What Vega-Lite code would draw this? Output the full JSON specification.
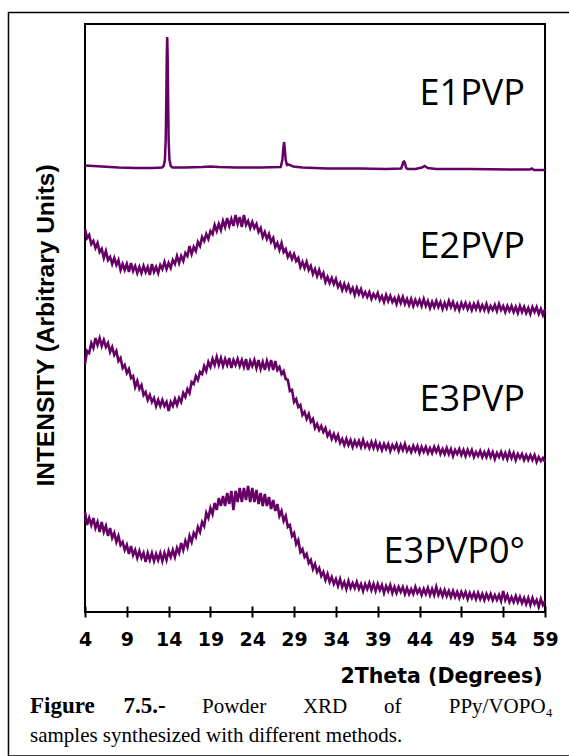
{
  "$schema": "https://vega.github.io/schema/vega-lite/v6.json",
  "width": 460,
  "height": 588,
  "autosize": {"type": "none"},
  "padding": {"left": 85, "top": 24, "right": 24, "bottom": 144},
  "background": "white",
  "datasets": {
    "e1": [
      {"t":4,"v":446.5},{"t":5,"v":446},{"t":6,"v":445.5},{"t":8,"v":444.5},{"t":10,"v":444},{"t":12,"v":444},
      {"t":13.2,"v":444.5},{"t":13.4,"v":446},{"t":13.55,"v":452},{"t":13.65,"v":472},{"t":13.72,"v":512},{"t":13.78,"v":557},
      {"t":13.83,"v":575},{"t":13.88,"v":557},{"t":13.94,"v":512},{"t":14.0,"v":472},{"t":14.1,"v":452},{"t":14.25,"v":446},
      {"t":14.45,"v":444.5},{"t":16,"v":444.5},{"t":18,"v":445},{"t":19,"v":445.5},{"t":20,"v":445},{"t":22,"v":444.5},
      {"t":25,"v":444.5},{"t":27.4,"v":445},{"t":27.6,"v":452},{"t":27.72,"v":464},{"t":27.81,"v":470},{"t":27.9,"v":462},
      {"t":28.0,"v":452},{"t":28.15,"v":447},{"t":28.4,"v":447.5},{"t":28.6,"v":446.5},{"t":28.9,"v":445.5},{"t":30,"v":444.5},
      {"t":33,"v":443.5},{"t":37,"v":443.5},{"t":40,"v":443},{"t":41.8,"v":443.5},{"t":41.95,"v":447},{"t":42.05,"v":450},
      {"t":42.15,"v":450.5},{"t":42.25,"v":449},{"t":42.4,"v":444},{"t":42.6,"v":443},{"t":43.5,"v":443},{"t":44.3,"v":444.5},
      {"t":44.6,"v":446},{"t":45.0,"v":444},{"t":46,"v":443},{"t":50,"v":443},{"t":55,"v":442.5},{"t":57.2,"v":442.5},
      {"t":57.4,"v":443.5},{"t":57.7,"v":442},{"t":59,"v":442}
    ],
    "labels": [
      {"label":"E1PVP","t":56.6,"v":507},
      {"label":"E2PVP","t":56.6,"v":354},
      {"label":"E3PVP","t":56.6,"v":201},
      {"label":"E3PVP0°","t":56.6,"v":49}
    ],
    "noisy": [
      {"t":4.00,"a":383,"b":248,"c":100},{"t":4.25,"a":374,"b":261,"c":87},{"t":4.50,"a":377,"b":259,"c":94},{"t":4.75,"a":368,"b":269,"c":87},
      {"t":5.00,"a":371,"b":264,"c":94},{"t":5.25,"a":364,"b":274,"c":84},{"t":5.50,"a":369,"b":267,"c":90},{"t":5.75,"a":360,"b":274,"c":80},
      {"t":6.00,"a":363,"b":266,"c":90},{"t":6.25,"a":354,"b":272,"c":80},{"t":6.50,"a":361,"b":265,"c":86},{"t":6.75,"a":352,"b":269,"c":76},
      {"t":7.00,"a":355,"b":260,"c":84},{"t":7.25,"a":348,"b":265,"c":74},{"t":7.50,"a":354,"b":257,"c":79},{"t":7.75,"a":347,"b":261,"c":70},
      {"t":8.00,"a":352,"b":251,"c":76},{"t":8.25,"a":342,"b":254,"c":67},{"t":8.50,"a":348,"b":244,"c":70},{"t":8.75,"a":342,"b":247,"c":62},
      {"t":9.00,"a":348,"b":239,"c":67},{"t":9.25,"a":340,"b":243,"c":58},{"t":9.50,"a":349,"b":234,"c":66},{"t":9.75,"a":341,"b":236,"c":57},
      {"t":10.00,"a":346,"b":225,"c":62},{"t":10.25,"a":339,"b":231,"c":54},{"t":10.50,"a":345,"b":223,"c":61},{"t":10.75,"a":339,"b":227,"c":54},
      {"t":11.00,"a":346,"b":217,"c":59},{"t":11.25,"a":340,"b":220,"c":50},{"t":11.50,"a":345,"b":212,"c":59},{"t":11.75,"a":337,"b":217,"c":52},
      {"t":12.00,"a":348,"b":210,"c":59},{"t":12.25,"a":340,"b":214,"c":51},{"t":12.50,"a":345,"b":206,"c":58},{"t":12.75,"a":339,"b":212,"c":52},
      {"t":13.00,"a":347,"b":206,"c":59},{"t":13.25,"a":343,"b":212,"c":51},{"t":13.50,"a":350,"b":206,"c":59},{"t":13.75,"a":343,"b":210,"c":52},
      {"t":14.00,"a":349,"b":201,"c":61},{"t":14.25,"a":344,"b":210,"c":55},{"t":14.50,"a":352,"b":206,"c":62},{"t":14.75,"a":348,"b":213,"c":55},
      {"t":15.00,"a":356,"b":207,"c":64},{"t":15.25,"a":349,"b":214,"c":59},{"t":15.50,"a":356,"b":210,"c":69},{"t":15.75,"a":351,"b":219,"c":62},
      {"t":16.00,"a":359,"b":215,"c":71},{"t":16.25,"a":356,"b":223,"c":65},{"t":16.50,"a":366,"b":219,"c":76},{"t":16.75,"a":358,"b":230,"c":70},
      {"t":17.00,"a":365,"b":228,"c":79},{"t":17.25,"a":361,"b":236,"c":75},{"t":17.50,"a":370,"b":232,"c":85},{"t":17.75,"a":366,"b":240,"c":80},
      {"t":18.00,"a":375,"b":238,"c":90},{"t":18.25,"a":371,"b":246,"c":86},{"t":18.50,"a":378,"b":241,"c":99},{"t":18.75,"a":373,"b":250,"c":94},
      {"t":19.00,"a":381,"b":245,"c":104},{"t":19.25,"a":378,"b":253,"c":98},{"t":19.50,"a":387,"b":247,"c":109},{"t":19.75,"a":381,"b":255,"c":102},
      {"t":20.00,"a":388,"b":247,"c":114},{"t":20.25,"a":382,"b":254,"c":106},{"t":20.50,"a":391,"b":246,"c":116},{"t":20.75,"a":385,"b":253,"c":106},
      {"t":21.00,"a":394,"b":247,"c":119},{"t":21.25,"a":386,"b":254,"c":108},{"t":21.50,"a":393,"b":244,"c":121},{"t":21.75,"a":386,"b":252,"c":102},
      {"t":22.00,"a":397,"b":247,"c":121},{"t":22.25,"a":388,"b":253,"c":110},{"t":22.50,"a":395,"b":246,"c":124},{"t":22.75,"a":385,"b":252,"c":110},
      {"t":23.00,"a":397,"b":245,"c":124},{"t":23.25,"a":387,"b":253,"c":112},{"t":23.50,"a":391,"b":242,"c":126},{"t":23.75,"a":384,"b":251,"c":110},
      {"t":24.00,"a":390,"b":246,"c":124},{"t":24.25,"a":384,"b":252,"c":110},{"t":24.50,"a":388,"b":244,"c":122},{"t":24.75,"a":380,"b":252,"c":108},
      {"t":25.00,"a":384,"b":243,"c":119},{"t":25.25,"a":375,"b":250,"c":106},{"t":25.50,"a":380,"b":242,"c":118},{"t":25.75,"a":373,"b":251,"c":106},
      {"t":26.00,"a":378,"b":244,"c":115},{"t":26.25,"a":370,"b":252,"c":103},{"t":26.50,"a":374,"b":242,"c":112},{"t":26.75,"a":365,"b":251,"c":101},
      {"t":27.00,"a":369,"b":242,"c":108},{"t":27.25,"a":362,"b":245,"c":96},{"t":27.50,"a":369,"b":238,"c":101},{"t":27.75,"a":360,"b":241,"c":91},
      {"t":28.00,"a":363,"b":233,"c":96},{"t":28.25,"a":355,"b":232,"c":85},{"t":28.50,"a":359,"b":221,"c":87},{"t":28.75,"a":353,"b":222,"c":76},
      {"t":29.00,"a":358,"b":210,"c":79},{"t":29.25,"a":351,"b":213,"c":68},{"t":29.50,"a":354,"b":205,"c":72},{"t":29.75,"a":345,"b":207,"c":60},
      {"t":30.00,"a":350,"b":197,"c":63},{"t":30.25,"a":344,"b":200,"c":55},{"t":30.50,"a":350,"b":193,"c":58},{"t":30.75,"a":342,"b":198,"c":49},
      {"t":31.00,"a":346,"b":190,"c":52},{"t":31.25,"a":338,"b":193,"c":43},{"t":31.50,"a":343,"b":184,"c":48},{"t":31.75,"a":336,"b":188,"c":40},
      {"t":32.00,"a":342,"b":182,"c":44},{"t":32.25,"a":335,"b":186,"c":36},{"t":32.50,"a":339,"b":180,"c":40},{"t":32.75,"a":330,"b":184,"c":32},
      {"t":33.00,"a":335,"b":176,"c":38},{"t":33.25,"a":329,"b":180,"c":30},{"t":33.50,"a":334,"b":173,"c":35},{"t":33.75,"a":328,"b":178,"c":28},
      {"t":34.00,"a":333,"b":172,"c":33},{"t":34.25,"a":325,"b":177,"c":26},{"t":34.50,"a":329,"b":169,"c":33},{"t":34.75,"a":322,"b":173,"c":25},
      {"t":35.00,"a":328,"b":167,"c":30},{"t":35.25,"a":322,"b":173,"c":23},{"t":35.50,"a":327,"b":167,"c":31},{"t":35.75,"a":320,"b":172,"c":24},
      {"t":36.00,"a":324,"b":165,"c":29},{"t":36.25,"a":317,"b":171,"c":24},{"t":36.50,"a":324,"b":166,"c":30},{"t":36.75,"a":318,"b":171,"c":23},
      {"t":37.00,"a":323,"b":165,"c":28},{"t":37.25,"a":316,"b":172,"c":21},{"t":37.50,"a":320,"b":165,"c":28},{"t":37.75,"a":315,"b":169,"c":23},
      {"t":38.00,"a":320,"b":164,"c":29},{"t":38.25,"a":313,"b":170,"c":22},{"t":38.50,"a":318,"b":164,"c":28},{"t":38.75,"a":314,"b":170,"c":21},
      {"t":39.00,"a":319,"b":163,"c":28},{"t":39.25,"a":312,"b":168,"c":22},{"t":39.50,"a":316,"b":162,"c":27},{"t":39.75,"a":310,"b":168,"c":19},
      {"t":40.00,"a":317,"b":163,"c":26},{"t":40.25,"a":311,"b":168,"c":21},{"t":40.50,"a":316,"b":161,"c":27},{"t":40.75,"a":310,"b":167,"c":19},
      {"t":41.00,"a":314,"b":163,"c":25},{"t":41.25,"a":308,"b":168,"c":19},{"t":41.50,"a":315,"b":161,"c":25},{"t":41.75,"a":309,"b":167,"c":20},
      {"t":42.00,"a":315,"b":162,"c":25},{"t":42.25,"a":308,"b":168,"c":18},{"t":42.50,"a":313,"b":161,"c":24},{"t":42.75,"a":307,"b":165,"c":18},
      {"t":43.00,"a":313,"b":160,"c":23},{"t":43.25,"a":306,"b":166,"c":18},{"t":43.50,"a":312,"b":161,"c":25},{"t":43.75,"a":307,"b":166,"c":19},
      {"t":44.00,"a":312,"b":159,"c":23},{"t":44.25,"a":306,"b":165,"c":17},{"t":44.50,"a":313,"b":160,"c":23},{"t":44.75,"a":306,"b":165,"c":18},
      {"t":45.00,"a":311,"b":159,"c":24},{"t":45.25,"a":304,"b":164,"c":17},{"t":45.50,"a":310,"b":159,"c":23},{"t":45.75,"a":305,"b":165,"c":17},
      {"t":46.00,"a":311,"b":160,"c":25},{"t":46.25,"a":305,"b":165,"c":17},{"t":46.50,"a":310,"b":158,"c":22},{"t":46.75,"a":303,"b":163,"c":16},
      {"t":47.00,"a":309,"b":158,"c":22},{"t":47.25,"a":304,"b":164,"c":16},{"t":47.50,"a":311,"b":158,"c":21},{"t":47.75,"a":305,"b":163,"c":15},
      {"t":48.00,"a":310,"b":156,"c":21},{"t":48.25,"a":303,"b":162,"c":15},{"t":48.50,"a":308,"b":158,"c":20},{"t":48.75,"a":302,"b":163,"c":14},
      {"t":49.00,"a":309,"b":157,"c":20},{"t":49.25,"a":304,"b":162,"c":15},{"t":49.50,"a":309,"b":156,"c":20},{"t":49.75,"a":303,"b":162,"c":13},
      {"t":50.00,"a":308,"b":157,"c":19},{"t":50.25,"a":302,"b":162,"c":14},{"t":50.50,"a":308,"b":155,"c":19},{"t":50.75,"a":303,"b":160,"c":13},
      {"t":51.00,"a":309,"b":156,"c":19},{"t":51.25,"a":302,"b":161,"c":13},{"t":51.50,"a":307,"b":155,"c":18},{"t":51.75,"a":302,"b":160,"c":12},
      {"t":52.00,"a":308,"b":155,"c":18},{"t":52.25,"a":301,"b":161,"c":13},{"t":52.50,"a":306,"b":155,"c":18},{"t":52.75,"a":302,"b":160,"c":12},
      {"t":53.00,"a":307,"b":153,"c":17},{"t":53.25,"a":301,"b":159,"c":12},{"t":53.50,"a":308,"b":155,"c":17},{"t":53.75,"a":302,"b":160,"c":11},
      {"t":54.00,"a":306,"b":154,"c":21},{"t":54.25,"a":300,"b":159,"c":12},{"t":54.50,"a":306,"b":153,"c":17},{"t":54.75,"a":301,"b":160,"c":10},
      {"t":55.00,"a":306,"b":154,"c":15},{"t":55.25,"a":300,"b":159,"c":10},{"t":55.50,"a":305,"b":152,"c":16},{"t":55.75,"a":299,"b":158,"c":10},
      {"t":56.00,"a":306,"b":154,"c":15},{"t":56.25,"a":300,"b":158,"c":9},{"t":56.50,"a":305,"b":152,"c":14},{"t":56.75,"a":299,"b":157,"c":8},
      {"t":57.00,"a":304,"b":152,"c":14},{"t":57.25,"a":298,"b":157,"c":7},{"t":57.50,"a":305,"b":152,"c":14},{"t":57.75,"a":300,"b":157,"c":8},
      {"t":58.00,"a":305,"b":150,"c":12},{"t":58.25,"a":298,"b":155,"c":5},{"t":58.50,"a":303,"b":151,"c":13},{"t":58.75,"a":297,"b":154,"c":7},
      {"t":59.00,"a":303,"b":150,"c":11}
    ]
  },
  "layer": [
    {
      "data": {"values": [{}]},
      "mark": {"type": "rect", "fill": "white", "fillOpacity": 0, "stroke": "black", "strokeWidth": 1.5, "clip": false},
      "encoding": {
        "x": {
          "datum": -5.15, "type": "quantitative",
          "scale": {"domain": [4, 59], "nice": false, "zero": false},
          "axis": {
            "title": "2Theta (Degrees)",
            "values": [4, 9, 14, 19, 24, 29, 34, 39, 44, 49, 54, 59],
            "domain": false, "grid": false, "offset": -6,
            "tickSize": 11, "tickWidth": 2, "tickColor": "black",
            "labelFont": "DejaVu Sans", "labelFontWeight": "bold", "labelFontSize": 19, "labelColor": "black",
            "labelBaseline": "alphabetic", "labelPadding": 28, "labelFlush": false, "labelOverlap": false,
            "titleFont": "DejaVu Sans", "titleFontWeight": "bold", "titleFontSize": 20.5, "titleColor": "black",
            "titleX": 457, "titleY": 76, "titleAlign": "right", "titleAnchor": "end", "titleBaseline": "alphabetic"
          }
        },
        "x2": {"datum": 64},
        "y": {
          "datum": 599.5, "type": "quantitative",
          "scale": {"domain": [0, 588], "nice": false, "zero": false},
          "axis": {
            "title": "INTENSITY (Arbitrary Units)",
            "domain": false, "ticks": false, "labels": false, "grid": false,
            "titleFont": "Liberation Sans", "titleFontWeight": "bold", "titleFontSize": 24.5, "titleColor": "black",
            "titleAngle": 270, "titleX": -32, "titleY": 301, "titleAlign": "center", "titleBaseline": "alphabetic"
          }
        },
        "y2": {"datum": -144}
      }
    },
    {
      "data": {"name": "noisy"},
      "transform": [{"fold": ["a", "b", "c"], "as": ["key", "v"]}],
      "mark": {"type": "line", "color": "#660066", "strokeWidth": 2.6},
      "encoding": {
        "x": {
          "field": "t", "type": "quantitative",
          "scale": {"domain": [4, 59], "nice": false, "zero": false},
          "axis": {
            "title": "2Theta (Degrees)",
            "values": [4, 9, 14, 19, 24, 29, 34, 39, 44, 49, 54, 59],
            "domain": false, "grid": false, "offset": -6,
            "tickSize": 11, "tickWidth": 2, "tickColor": "black",
            "labelFont": "DejaVu Sans", "labelFontWeight": "bold", "labelFontSize": 19, "labelColor": "black",
            "labelBaseline": "alphabetic", "labelPadding": 28, "labelFlush": false, "labelOverlap": false,
            "titleFont": "DejaVu Sans", "titleFontWeight": "bold", "titleFontSize": 20.5, "titleColor": "black",
            "titleX": 457, "titleY": 76, "titleAlign": "right", "titleAnchor": "end", "titleBaseline": "alphabetic"
          }
        },
        "y": {
          "field": "v", "type": "quantitative",
          "scale": {"domain": [0, 588], "nice": false, "zero": false},
          "axis": {
            "title": "INTENSITY (Arbitrary Units)",
            "domain": false, "ticks": false, "labels": false, "grid": false,
            "titleFont": "Liberation Sans", "titleFontWeight": "bold", "titleFontSize": 24.5, "titleColor": "black",
            "titleAngle": 270, "titleX": -32, "titleY": 301, "titleAlign": "center", "titleBaseline": "alphabetic"
          }
        },
        "detail": {"field": "key", "type": "nominal"}
      }
    },
    {
      "data": {"name": "e1"},
      "mark": {"type": "line", "color": "#660066", "strokeWidth": 2.5},
      "encoding": {
        "x": {
          "field": "t", "type": "quantitative",
          "scale": {"domain": [4, 59], "nice": false, "zero": false},
          "axis": {
            "title": "2Theta (Degrees)",
            "values": [4, 9, 14, 19, 24, 29, 34, 39, 44, 49, 54, 59],
            "domain": false, "grid": false, "offset": -6,
            "tickSize": 11, "tickWidth": 2, "tickColor": "black",
            "labelFont": "DejaVu Sans", "labelFontWeight": "bold", "labelFontSize": 19, "labelColor": "black",
            "labelBaseline": "alphabetic", "labelPadding": 28, "labelFlush": false, "labelOverlap": false,
            "titleFont": "DejaVu Sans", "titleFontWeight": "bold", "titleFontSize": 20.5, "titleColor": "black",
            "titleX": 457, "titleY": 76, "titleAlign": "right", "titleAnchor": "end", "titleBaseline": "alphabetic"
          }
        },
        "y": {
          "field": "v", "type": "quantitative",
          "scale": {"domain": [0, 588], "nice": false, "zero": false},
          "axis": {
            "title": "INTENSITY (Arbitrary Units)",
            "domain": false, "ticks": false, "labels": false, "grid": false,
            "titleFont": "Liberation Sans", "titleFontWeight": "bold", "titleFontSize": 24.5, "titleColor": "black",
            "titleAngle": 270, "titleX": -32, "titleY": 301, "titleAlign": "center", "titleBaseline": "alphabetic"
          }
        }
      }
    },
    {
      "data": {"name": "labels"},
      "mark": {"type": "text", "align": "right", "baseline": "alphabetic", "font": "Open Sans", "fontSize": 36, "color": "black"},
      "encoding": {
        "x": {
          "field": "t", "type": "quantitative",
          "scale": {"domain": [4, 59], "nice": false, "zero": false},
          "axis": {
            "title": "2Theta (Degrees)",
            "values": [4, 9, 14, 19, 24, 29, 34, 39, 44, 49, 54, 59],
            "domain": false, "grid": false, "offset": -6,
            "tickSize": 11, "tickWidth": 2, "tickColor": "black",
            "labelFont": "DejaVu Sans", "labelFontWeight": "bold", "labelFontSize": 19, "labelColor": "black",
            "labelBaseline": "alphabetic", "labelPadding": 28, "labelFlush": false, "labelOverlap": false,
            "titleFont": "DejaVu Sans", "titleFontWeight": "bold", "titleFontSize": 20.5, "titleColor": "black",
            "titleX": 457, "titleY": 76, "titleAlign": "right", "titleAnchor": "end", "titleBaseline": "alphabetic"
          }
        },
        "y": {
          "field": "v", "type": "quantitative",
          "scale": {"domain": [0, 588], "nice": false, "zero": false},
          "axis": {
            "title": "INTENSITY (Arbitrary Units)",
            "domain": false, "ticks": false, "labels": false, "grid": false,
            "titleFont": "Liberation Sans", "titleFontWeight": "bold", "titleFontSize": 24.5, "titleColor": "black",
            "titleAngle": 270, "titleX": -32, "titleY": 301, "titleAlign": "center", "titleBaseline": "alphabetic"
          }
        },
        "text": {"field": "label", "type": "nominal"}
      }
    },
    {
      "data": {"values": [{}]},
      "mark": {"type": "text", "align": "left", "baseline": "alphabetic", "font": "Liberation Serif", "fontSize": 23, "fontWeight": "bold", "color": "black", "clip": false},
      "encoding": {
        "x": {
          "datum": -2.58, "type": "quantitative",
          "scale": {"domain": [4, 59], "nice": false, "zero": false},
          "axis": {
            "title": "2Theta (Degrees)",
            "values": [4, 9, 14, 19, 24, 29, 34, 39, 44, 49, 54, 59],
            "domain": false, "grid": false, "offset": -6,
            "tickSize": 11, "tickWidth": 2, "tickColor": "black",
            "labelFont": "DejaVu Sans", "labelFontWeight": "bold", "labelFontSize": 19, "labelColor": "black",
            "labelBaseline": "alphabetic", "labelPadding": 28, "labelFlush": false, "labelOverlap": false,
            "titleFont": "DejaVu Sans", "titleFontWeight": "bold", "titleFontSize": 20.5, "titleColor": "black",
            "titleX": 457, "titleY": 76, "titleAlign": "right", "titleAnchor": "end", "titleBaseline": "alphabetic"
          }
        },
        "y": {
          "datum": -101, "type": "quantitative",
          "scale": {"domain": [0, 588], "nice": false, "zero": false},
          "axis": {
            "title": "INTENSITY (Arbitrary Units)",
            "domain": false, "ticks": false, "labels": false, "grid": false,
            "titleFont": "Liberation Sans", "titleFontWeight": "bold", "titleFontSize": 24.5, "titleColor": "black",
            "titleAngle": 270, "titleX": -32, "titleY": 301, "titleAlign": "center", "titleBaseline": "alphabetic"
          }
        },
        "text": {"value": "Figure\u00a0\u00a0\u00a0\u00a0\u00a07.5.-"}
      }
    },
    {
      "data": {"values": [{}]},
      "mark": {"type": "text", "align": "left", "baseline": "alphabetic", "font": "Liberation Serif", "fontSize": 21, "color": "black", "clip": false},
      "encoding": {
        "x": {
          "datum": 17.99, "type": "quantitative",
          "scale": {"domain": [4, 59], "nice": false, "zero": false},
          "axis": {
            "title": "2Theta (Degrees)",
            "values": [4, 9, 14, 19, 24, 29, 34, 39, 44, 49, 54, 59],
            "domain": false, "grid": false, "offset": -6,
            "tickSize": 11, "tickWidth": 2, "tickColor": "black",
            "labelFont": "DejaVu Sans", "labelFontWeight": "bold", "labelFontSize": 19, "labelColor": "black",
            "labelBaseline": "alphabetic", "labelPadding": 28, "labelFlush": false, "labelOverlap": false,
            "titleFont": "DejaVu Sans", "titleFontWeight": "bold", "titleFontSize": 20.5, "titleColor": "black",
            "titleX": 457, "titleY": 76, "titleAlign": "right", "titleAnchor": "end", "titleBaseline": "alphabetic"
          }
        },
        "y": {
          "datum": -101, "type": "quantitative",
          "scale": {"domain": [0, 588], "nice": false, "zero": false},
          "axis": {
            "title": "INTENSITY (Arbitrary Units)",
            "domain": false, "ticks": false, "labels": false, "grid": false,
            "titleFont": "Liberation Sans", "titleFontWeight": "bold", "titleFontSize": 24.5, "titleColor": "black",
            "titleAngle": 270, "titleX": -32, "titleY": 301, "titleAlign": "center", "titleBaseline": "alphabetic"
          }
        },
        "text": {"value": "Powder\u00a0\u00a0\u00a0\u00a0\u00a0\u00a0\u00a0XRD\u00a0\u00a0\u00a0\u00a0\u00a0\u00a0\u00a0of\u00a0\u00a0\u00a0\u00a0\u00a0\u00a0\u00a0\u00a0\u00a0PPy/VOPO\u2084"}
      }
    },
    {
      "data": {"values": [{}]},
      "mark": {"type": "text", "align": "left", "baseline": "alphabetic", "font": "Liberation Serif", "fontSize": 21, "color": "black", "clip": false},
      "encoding": {
        "x": {
          "datum": -2.58, "type": "quantitative",
          "scale": {"domain": [4, 59], "nice": false, "zero": false},
          "axis": {
            "title": "2Theta (Degrees)",
            "values": [4, 9, 14, 19, 24, 29, 34, 39, 44, 49, 54, 59],
            "domain": false, "grid": false, "offset": -6,
            "tickSize": 11, "tickWidth": 2, "tickColor": "black",
            "labelFont": "DejaVu Sans", "labelFontWeight": "bold", "labelFontSize": 19, "labelColor": "black",
            "labelBaseline": "alphabetic", "labelPadding": 28, "labelFlush": false, "labelOverlap": false,
            "titleFont": "DejaVu Sans", "titleFontWeight": "bold", "titleFontSize": 20.5, "titleColor": "black",
            "titleX": 457, "titleY": 76, "titleAlign": "right", "titleAnchor": "end", "titleBaseline": "alphabetic"
          }
        },
        "y": {
          "datum": -130, "type": "quantitative",
          "scale": {"domain": [0, 588], "nice": false, "zero": false},
          "axis": {
            "title": "INTENSITY (Arbitrary Units)",
            "domain": false, "ticks": false, "labels": false, "grid": false,
            "titleFont": "Liberation Sans", "titleFontWeight": "bold", "titleFontSize": 24.5, "titleColor": "black",
            "titleAngle": 270, "titleX": -32, "titleY": 301, "titleAlign": "center", "titleBaseline": "alphabetic"
          }
        },
        "text": {"value": "samples synthesized with different methods."}
      }
    }
  ],
  "config": {
    "view": {"stroke": "black", "strokeWidth": 2}
  }
}
